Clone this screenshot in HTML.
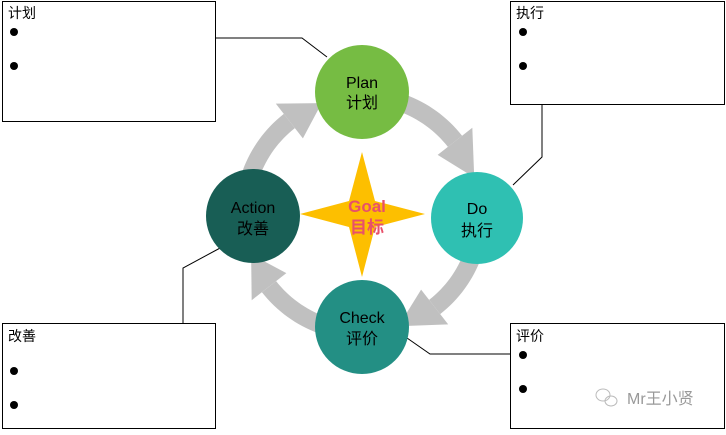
<!DOCTYPE html>
<html><head><meta charset="utf-8"><style>
body{margin:0;background:#fff;width:726px;height:430px;overflow:hidden;font-family:"Liberation Sans","Noto Sans CJK SC",sans-serif}
</style></head><body>
<svg id="s" width="726" height="430" xmlns="http://www.w3.org/2000/svg" font-family="Liberation Sans, Noto Sans CJK SC, sans-serif">
<g fill="#fff" stroke="#000" stroke-width="1">
<rect x="2.5" y="1.5" width="213" height="120"/>
<rect x="510.5" y="1.5" width="214" height="103"/>
<rect x="2.5" y="323.5" width="213" height="105"/>
<rect x="510.5" y="323.5" width="214" height="105"/>
</g>
<g fill="none" stroke="#000" stroke-width="1">
<polyline points="215,38 302,38 327,57"/>
<polyline points="542,104 542,157 513,185"/>
<polyline points="183,323 183,268 222,247"/>
<polyline points="407,338 430,354 510,354"/>
</g>
<g font-size="14" fill="#000">
<text x="8" y="18">计划</text><text x="516" y="18">执行</text>
<text x="8" y="341">改善</text><text x="516" y="341">评价</text>
</g>
<g fill="#000">
<circle cx="14" cy="32" r="4"/><circle cx="14" cy="66" r="4"/>
<circle cx="523" cy="32" r="4"/><circle cx="523" cy="66" r="4"/>
<circle cx="14" cy="371" r="4"/><circle cx="14" cy="405" r="4"/>
<circle cx="523" cy="355" r="4"/><circle cx="523" cy="389" r="4"/>
</g>
<g id="arrows" fill="#c0c0c0"></g>
<polygon points="362,152 375,201 425,214 375,227 362,277 349,227 300,214 349,201" fill="#fdbf00"/>
<circle cx="362" cy="92" r="47" fill="#76bc43"/>
<circle cx="477" cy="218" r="46" fill="#2fc0b2"/>
<circle cx="362" cy="327" r="47" fill="#238f84"/>
<circle cx="253" cy="216" r="47" fill="#185e55"/>
<g font-size="16" fill="#000" text-anchor="middle">
<text x="362" y="88">Plan</text><text x="362" y="108">计划</text>
<text x="477" y="214">Do</text><text x="477" y="236">执行</text>
<text x="362" y="323">Check</text><text x="362" y="344">评价</text>
<text x="253" y="213">Action</text><text x="253" y="234">改善</text>
</g>
<g font-size="17" fill="#e8506a" text-anchor="middle" font-weight="bold">
<text x="367" y="212">Goal</text><text x="367" y="233">目标</text>
</g>
<text x="627" y="404" font-size="16" fill="#999">Mr王小贤</text>
<g fill="none" stroke="#bbb" stroke-width="1"><ellipse cx="603" cy="395" rx="7" ry="6"/><ellipse cx="611" cy="401" rx="6" ry="5"/></g>
</svg>
<script>
var cx=362,cy=214,r=118,w=18,hw=22,g=document.getElementById('arrows');
function P(a,rr){a=a*Math.PI/180;return [cx+rr*Math.cos(a),cy+rr*Math.sin(a)];}
function arc(a0,a1,a2){
 var p="",i;
 for(i=a0;i<=a1;i+=2){var q=P(i,r+w/2);p+=q[0]+","+q[1]+" ";}
 for(i=a1;i>=a0;i-=2){var q=P(i,r-w/2);p+=q[0]+","+q[1]+" ";}
 var b=document.createElementNS("http://www.w3.org/2000/svg","polygon");b.setAttribute("points",p);g.appendChild(b);
 var o=P(a1,r+hw),n=P(a1,r-hw),t=P(a2,r);
 var h=document.createElementNS("http://www.w3.org/2000/svg","polygon");h.setAttribute("points",o+" "+n+" "+t);g.appendChild(h);
}
arc(-70,-38,-18);arc(20,52,72);arc(110,142,160);arc(200,232,250);
</script>
</body></html>
